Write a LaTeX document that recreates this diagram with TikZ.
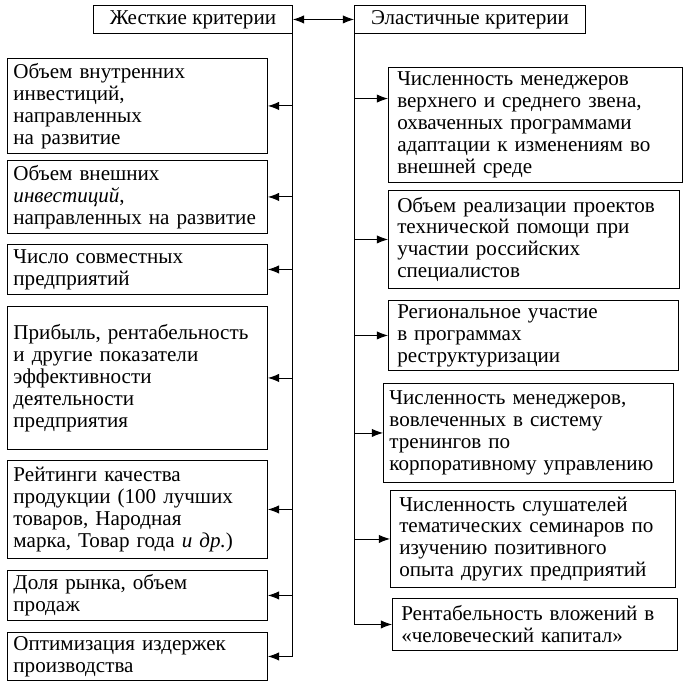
\documentclass[tikz,border=0pt]{standalone}
\usepackage{fontspec}
\setmainfont{Liberation Serif}
\usetikzlibrary{arrows.meta,positioning}

\begin{document}
\begin{tikzpicture}[
  every node/.style={font=\fontsize{15pt}{15.6pt}\selectfont},
  head/.style={draw, anchor=north west, minimum height=0.7cm, inner sep=0pt},
  crit/.style={draw, anchor=north west, align=left, inner ysep=2pt, inner xsep=0.15cm},
  feed/.style={-{Latex[length=8pt,width=6pt]}},
  line width=0.65pt
]
\useasboundingbox (0,0) rectangle (17.4,-17.325);

% headers
\node[head, minimum width=4.975cm] (hard) at (2.325,-0.125) {Жесткие критерии};
\node[head, minimum width=5.775cm] (soft) at (8.85,-0.125) {Эластичные критерии};
\draw[{Latex[length=8pt,width=6pt]}-{Latex[length=8pt,width=6pt]}] (hard) -- (soft);

% hard criteria
\node[crit, text width=6.2cm, minimum height=2.375cm] (h1) at (0.175,-1.45)
  {Объем внутренних\\инвестиций,\\направленных\\на развитие};
\node[crit, text width=6.2cm, minimum height=1.825cm] (h2) at (0.175,-4.0)
  {Объем внешних\\\textit{инвестиций},\\направленных на развитие};
\node[crit, text width=6.2cm, minimum height=1.25cm] (h3) at (0.175,-6.1)
  {Число совместных\\предприятий};
\node[crit, text width=6.2cm, minimum height=3.575cm] (h4) at (0.175,-7.65)
  {Прибыль, рентабельность\\и другие показатели\\эффективности\\деятельности\\предприятия};
\node[crit, text width=6.2cm, minimum height=2.45cm] (h5) at (0.175,-11.5)
  {Рейтинги качества\\продукции (100 лучших\\товаров, Народная\\марка, Товар года \textit{и др.})};
\node[crit, text width=6.2cm, minimum height=1.25cm] (h6) at (0.175,-14.25)
  {Доля рынка, объем\\продаж};
\node[crit, text width=6.2cm, minimum height=1.2cm] (h7) at (0.175,-15.8)
  {Оптимизация издержек\\производства};

% elastic criteria
\node[crit, inner xsep=0.22cm, text width=6.91cm, minimum height=2.875cm] (s1) at (9.7,-1.675)
  {Численность менеджеров\\верхнего и среднего звена,\\охваченных программами\\адаптации к изменениям во\\внешней среде};
\node[crit, inner xsep=0.22cm, text width=6.835cm, minimum height=2.45cm] (s2) at (9.7,-4.75)
  {Объем реализации проектов\\технической помощи при\\участии российских\\специалистов};
\node[crit, inner xsep=0.22cm, text width=6.81cm, minimum height=1.75cm] (s3) at (9.7,-7.5)
  {Региональное участие\\в программах\\реструктуризации};
\node[crit, text width=6.95cm, minimum height=2.475cm] (s4) at (9.575,-9.575)
  {Численность менеджеров,\\вовлеченных в систему\\тренингов по\\корпоративному управлению};
\node[crit, inner xsep=0.22cm, text width=6.685cm, minimum height=2.425cm] (s5) at (9.75,-12.25)
  {Численность слушателей\\тематических семинаров по\\изучению позитивного\\опыта других предприятий};
\node[crit, inner xsep=0.22cm, text width=6.685cm, minimum height=1.3cm] (s6) at (9.8,-14.95)
  {Рентабельность вложений в\\«человеческий капитал»};

% connectors
\foreach \n in {h1,h2,h3,h4,h5,h6,h7}
  \draw[feed] (hard.south east) |- (\n.east);
\draw[feed] (soft.south west) |- ([yshift=0.66cm]s1.west);
\foreach \n in {s2,s3,s4,s5,s6}
  \draw[feed] (soft.south west) |- (\n.west);
\end{tikzpicture}
\end{document}
